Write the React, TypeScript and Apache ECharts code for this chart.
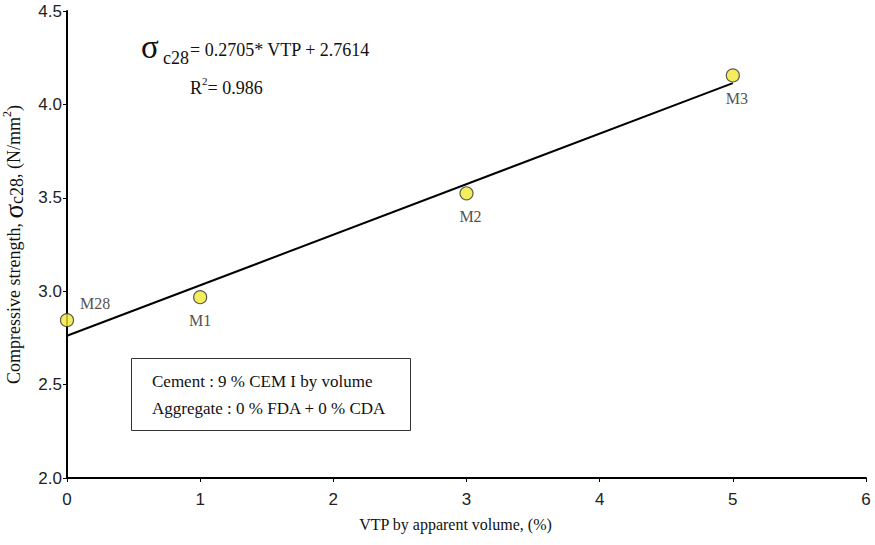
import React, { useEffect, useRef } from "react";
import * as echarts from "echarts";

const pointNames = ["M28", "M1", "M2", "M3"];
const vtpValues = [0, 1, 3, 5];
const strengthValues = [2.845, 2.968, 3.524, 4.155];
const trendX = [0, 5];
const trendY = [2.7614, 4.1139];
const xTicks = { min: 0, max: 6, interval: 1 };
const yTicks = { min: 2.0, max: 4.5, interval: 0.5 };
const equationText = "= 0.2705* VTP + 2.7614";
const r2Value = "0.986";
const boxLines = ["Cement : 9 % CEM I by volume", "Aggregate : 0 % FDA + 0 % CDA"];

const SERIF = "'Liberation Serif', 'DejaVu Serif', serif";
const SANS = "'Liberation Sans', Arial, sans-serif";

export default function App() {
  const ref = useRef<HTMLDivElement>(null);
  useEffect(() => {
    if (!ref.current) return;
    const chart = echarts.init(ref.current, null, { renderer: "svg" });
    const labelCfg: any[] = [
      { position: "right", distance: 6, offset: [0, -17] },
      { position: "bottom", distance: 8, offset: [0, 0] },
      { position: "bottom", distance: 8, offset: [4, 0] },
      { position: "bottom", distance: 8, offset: [4, 0] },
    ];
    const scatterData = pointNames.map((n, i) => ({
      name: n,
      value: [vtpValues[i], strengthValues[i]],
      label: { show: true, formatter: n, ...labelCfg[i] },
    }));
    chart.setOption({
      animation: false,
      backgroundColor: "#ffffff",
      grid: { left: 67, right: 9, top: 11, bottom: 67, containLabel: false, outerBoundsMode: "none" },
      xAxis: {
        type: "value",
        min: xTicks.min,
        max: xTicks.max,
        interval: xTicks.interval,
        name: "VTP by apparent volume, (%)",
        nameLocation: "middle",
        nameGap: 38,
        nameTextStyle: { fontFamily: SERIF, fontSize: 16, color: "#111", padding: [0, 22, 0, 0] },
        axisLine: { show: true, onZero: false, lineStyle: { color: "#000", width: 2 } },
        axisTick: { show: true, length: 4, lineStyle: { color: "#000", width: 1 } },
        axisLabel: { fontFamily: SANS, fontSize: 17, color: "#222", margin: 13 },
        splitLine: { show: false },
      },
      yAxis: {
        type: "value",
        min: yTicks.min,
        max: yTicks.max,
        interval: yTicks.interval,
        name:
          "{a|Compressive strength, }{s|σ}{sub|c28}{a|, (N/mm}{sup|2}{a|)}",
        nameLocation: "middle",
        nameGap: 30,
        nameRotate: 90,
        nameTextStyle: {
          fontFamily: SERIF,
          fontSize: 18,
          color: "#111",
          rich: {
            a: { fontFamily: SERIF, fontSize: 18, color: "#111", verticalAlign: "middle", lineHeight: 25 },
            s: { fontFamily: SERIF, fontSize: 27, color: "#111", verticalAlign: "middle", lineHeight: 25 },
            sub: { fontFamily: SERIF, fontSize: 18, color: "#111", verticalAlign: "bottom", lineHeight: 25 },
            sup: { fontFamily: SERIF, fontSize: 12, color: "#111", verticalAlign: "top", lineHeight: 25 },
          },
        },
        axisLine: { show: true, onZero: false, lineStyle: { color: "#000", width: 2 } },
        axisTick: { show: true, length: 4, lineStyle: { color: "#000", width: 1 } },
        axisLabel: {
          fontFamily: SANS,
          fontSize: 17,
          color: "#222",
          margin: 5,
          formatter: (v: number) => v.toFixed(1),
        },
        splitLine: { show: false },
      },
      series: [
        {
          type: "line",
          data: trendX.map((x, i) => [x, trendY[i]]),
          showSymbol: false,
          symbol: "none",
          lineStyle: { color: "#000", width: 2 },
          z: 2,
          clip: false,
        },
        {
          type: "scatter",
          data: scatterData,
          symbol: "circle",
          symbolSize: 13,
          itemStyle: { color: "#f2e834", borderColor: "#333", borderWidth: 1.2 },
          label: { fontFamily: SERIF, fontSize: 16, color: "#222" },
          z: 3,
          clip: false,
        },
      ],
      graphic: [
        {
          type: "text",
          left: 141,
          top: 30,
          style: { text: "σ", fontFamily: SERIF, fontSize: 33, fill: "#111" },
        },
        {
          type: "text",
          left: 163,
          top: 49,
          style: { text: "c28", fontFamily: SERIF, fontSize: 18, fill: "#111" },
        },
        {
          type: "text",
          left: 190,
          top: 41,
          style: { text: equationText, fontFamily: SERIF, fontSize: 18, fill: "#111" },
        },
        {
          type: "text",
          left: 190,
          top: 75,
          style: {
            text: "{a|R}{sup|2}{a|= " + r2Value + "}",
            fontFamily: SERIF,
            fontSize: 18,
            fill: "#111",
            rich: {
              a: { fontFamily: SERIF, fontSize: 18, fill: "#111", verticalAlign: "bottom", lineHeight: 22 },
              sup: { fontFamily: SERIF, fontSize: 11, fill: "#111", verticalAlign: "top", lineHeight: 22 },
            },
          },
        },
        {
          type: "rect",
          shape: { x: 131.5, y: 358.5, width: 279, height: 72 },
          style: { fill: "#fff", stroke: "#333", lineWidth: 1 },
          z: 1,
        },
        {
          type: "text",
          left: 152,
          top: 373,
          z: 5,
          style: { text: boxLines[0], fontFamily: SERIF, fontSize: 17, fill: "#111" },
        },
        {
          type: "text",
          left: 152,
          top: 400,
          z: 5,
          style: { text: boxLines[1], fontFamily: SERIF, fontSize: 17, fill: "#111" },
        },
      ],
    });
    return () => chart.dispose();
  }, []);
  return (
    <div
      ref={ref}
      style={{ position: "fixed", left: 0, top: 0, width: 875, height: 545, background: "#fff" }}
    />
  );
}
